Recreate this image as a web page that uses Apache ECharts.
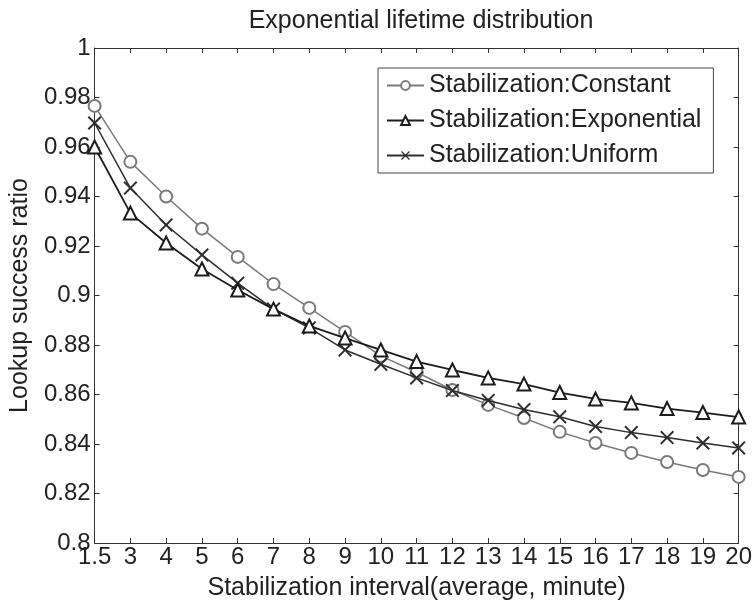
<!DOCTYPE html>
<html>
<head>
    <meta charset="utf-8">
    <title>Exponential lifetime distribution</title>
    <script src="https://cdn.jsdelivr.net/npm/echarts@6/dist/echarts.min.js"></script>
</head>
<body style="margin:0;background:#fff;">
    <div id="main" style="width:755px;height:607px;"></div>
    <script type="text/javascript">
        // x categories (stabilization interval, minutes)
        var categories = ['1.5', '3', '4', '5', '6', '7', '8', '9', '10', '11', '12', '13', '14', '15', '16', '17', '18', '19', '20'];
        // lookup success ratio
        var constant = [0.9766, 0.954, 0.940, 0.927, 0.9156, 0.9046, 0.895, 0.8853, 0.8756, 0.869, 0.8618, 0.8558, 0.8505, 0.8449, 0.8404, 0.8364, 0.8327, 0.8295, 0.8267];
        var exponential = [0.960, 0.9333, 0.9212, 0.9107, 0.9022, 0.8945, 0.8877, 0.8828, 0.878, 0.8733, 0.8699, 0.8667, 0.8642, 0.8608, 0.8582, 0.8566, 0.8543, 0.8527, 0.8509];
        var uniform = [0.9697, 0.9434, 0.9285, 0.9164, 0.905, 0.8945, 0.8869, 0.878, 0.8722, 0.8667, 0.8616, 0.8576, 0.8539, 0.851, 0.8471, 0.8446, 0.8426, 0.8404, 0.8384];

        var font = 'Liberation Sans, Arial, sans-serif';
        var axisColor = '#333';
        var xMark = 'path://M0,1L1,0L5,4L9,0L10,1L6,5L10,9L9,10L5,6L1,10L0,9L4,5Z';

        var myChart = echarts.init(document.getElementById('main'));

        var option = {
            backgroundColor: '#fff',
            animation: false,
            textStyle: {fontFamily: font},
            title: {
                text: 'Exponential lifetime distribution',
                left: 416,
                textAlign: 'center',
                top: 4,
                textStyle: {fontSize: 25, fontWeight: 'normal', color: '#222', fontFamily: font}
            },
            legend: {
                orient: 'vertical',
                left: 378,
                top: 68,
                padding: [5, 12, 5, 8],
                itemGap: 10,
                itemWidth: 37,
                itemHeight: 11,
                borderColor: '#444',
                borderWidth: 1,
                backgroundColor: '#fff',
                textStyle: {fontSize: 25, color: '#222', lineHeight: 24, fontFamily: font},
                data: ['Stabilization:Constant', 'Stabilization:Exponential', 'Stabilization:Uniform']
            },
            grid: {left: 92, right: 16, top: 48, bottom: 64},
            xAxis: [{
                type: 'category',
                data: categories,
                boundaryGap: false,
                name: 'Stabilization interval(average, minute)',
                nameLocation: 'middle',
                nameGap: 33,
                nameTextStyle: {fontSize: 25, color: '#222', fontFamily: font},
                axisLine: {lineStyle: {color: axisColor}},
                axisTick: {inside: true, length: 5, alignWithLabel: true, lineStyle: {color: axisColor}},
                axisLabel: {fontSize: 24, color: '#222', margin: 2, interval: 0, fontFamily: font},
                splitLine: {show: false}
            }, {
                type: 'category',
                data: categories,
                boundaryGap: false,
                position: 'top',
                axisLine: {lineStyle: {color: axisColor}},
                axisTick: {inside: true, length: 5, lineStyle: {color: axisColor}},
                axisLabel: {show: false},
                splitLine: {show: false}
            }],
            yAxis: [{
                type: 'value',
                min: 0.8,
                max: 1,
                interval: 0.02,
                name: 'Lookup success ratio',
                nameLocation: 'middle',
                nameGap: 60,
                nameTextStyle: {fontSize: 25, color: '#222', fontFamily: font},
                axisLine: {show: true, lineStyle: {color: axisColor}},
                axisTick: {show: true, inside: true, length: 5, lineStyle: {color: axisColor}},
                axisLabel: {fontSize: 24, color: '#222', margin: 4, fontFamily: font},
                splitLine: {show: false}
            }, {
                type: 'value',
                min: 0.8,
                max: 1,
                interval: 0.02,
                position: 'right',
                axisLine: {show: true, lineStyle: {color: axisColor}},
                axisTick: {show: true, inside: true, length: 5, lineStyle: {color: axisColor}},
                axisLabel: {show: false},
                splitLine: {show: false}
            }],
            series: [{
                name: 'Stabilization:Constant',
                type: 'line',
                data: constant,
                symbol: 'emptyCircle',
                symbolSize: 12,
                color: '#7a7a7a',
                lineStyle: {width: 1.5, color: '#7a7a7a'},
                itemStyle: {color: '#7a7a7a', borderWidth: 1.6},
                z: 2
            }, {
                name: 'Stabilization:Exponential',
                type: 'line',
                data: exponential,
                symbol: 'emptyTriangle',
                symbolSize: 13,
                color: '#1c1c1c',
                lineStyle: {width: 1.8, color: '#1c1c1c'},
                itemStyle: {color: '#1c1c1c', borderWidth: 2},
                z: 4
            }, {
                name: 'Stabilization:Uniform',
                type: 'line',
                data: uniform,
                symbol: xMark,
                symbolSize: 14,
                color: '#2e2e2e',
                lineStyle: {width: 1.5, color: '#2e2e2e'},
                itemStyle: {color: '#2e2e2e'},
                z: 3
            }]
        };

        myChart.setOption(option);
    </script>
</body>
</html>
